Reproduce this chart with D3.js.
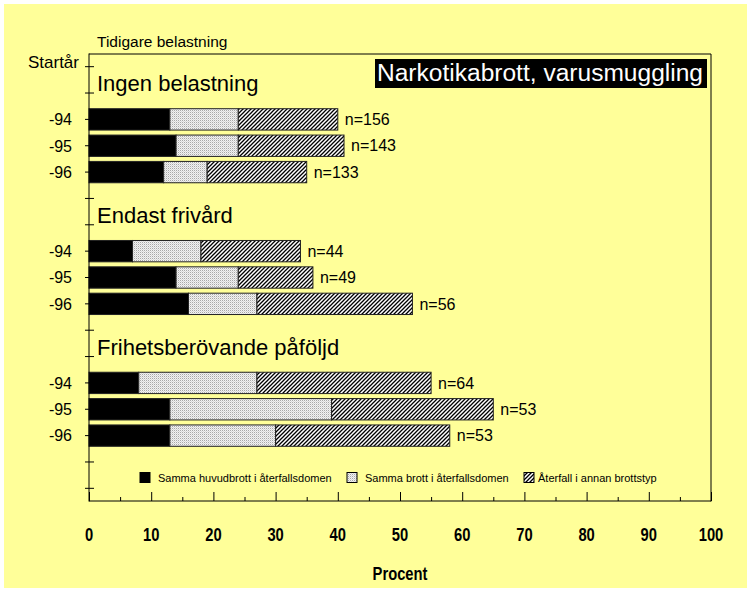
<!DOCTYPE html>
<html><head><meta charset="utf-8">
<script src="https://cdn.jsdelivr.net/npm/d3@7"></script>
<style>
body{margin:0;background:#fff}
svg{display:block}
text{font-family:"Liberation Sans",Arial,Helvetica,sans-serif;fill:#000}
</style>
</head><body>
<svg id="chart" width="751" height="592"></svg>
<script>
// ---- data ----
const title = "Narkotikabrott, varusmuggling";
const groupNames = ["Ingen belastning", "Endast frivård", "Frihetsberövande påföljd"];
const years = ["-94", "-95", "-96"];
const sammaHuvud = [13, 14, 12, 7, 14, 16, 8, 13, 13];
const sammaBrott = [11, 10, 7, 11, 10, 11, 19, 26, 17];
const annanTyp   = [16, 17, 16, 16, 12, 25, 28, 26, 28];
const nLabels = ["n=156", "n=143", "n=133", "n=44", "n=49", "n=56", "n=64", "n=53", "n=53"];
const seriesNames = ["Samma huvudbrott i återfallsdomen", "Samma brott i återfallsdomen", "Återfall i annan brottstyp"];
const xTicks = [0, 10, 20, 30, 40, 50, 60, 70, 80, 90, 100];
const xTitle = "Procent";
const yHeader = "Startår";
const topNote = "Tidigare belastning";

// ---- layout ----
const W = 751, H = 592;
const L = 89, R = 711, T = 53.5, B = 501.5;
const nSlots = 17;
const svg = d3.select("#chart");

// defs: patterns
const defs = svg.append("defs");
const pg = defs.append("pattern").attr("id", "dots").attr("patternUnits", "userSpaceOnUse")
  .attr("width", 2).attr("height", 2);
pg.append("rect").attr("width", 2).attr("height", 2).attr("fill", "#f2f2f2");
pg.append("rect").attr("width", 1).attr("height", 1).attr("fill", "#a8a8a8");
pg.append("rect").attr("x", 1).attr("y", 1).attr("width", 1).attr("height", 1).attr("fill", "#d8d8d8");
const ph = defs.append("pattern").attr("id", "hatch").attr("patternUnits", "userSpaceOnUse")
  .attr("width", 4).attr("height", 4);
ph.append("rect").attr("width", 4).attr("height", 4).attr("fill", "#fff");
ph.append("path").attr("d", "M0,4 L4,0 M-1,1 L1,-1 M3,5 L5,3")
  .attr("stroke", "#000").attr("stroke-width", 1.3);
const fills = ["#000", "url(#dots)", "url(#hatch)"];

// background
svg.append("rect").attr("x", 4).attr("y", 4).attr("width", W - 8).attr("height", H - 8).attr("fill", "#FFFF99");

// scales
const y = d3.scaleBand().domain(d3.range(nSlots)).range([T, B]).paddingInner(0.19).paddingOuter(0.095);
const yc = i => y(i) + y.bandwidth() / 2;
const x = d3.scaleLinear().domain([0, 100]).range([L, R]);

// rows
const rows = [];
groupNames.forEach((g, gi) => {
  years.forEach((yr, yi) => {
    const k = gi * 3 + yi;
    rows.push({slot: 2 + gi * 5 + yi, year: yr, s0: sammaHuvud[k], s1: sammaBrott[k], s2: annanTyp[k], n: nLabels[k]});
  });
});
const stack = d3.stack().keys(["s0", "s1", "s2"]);
const stacked = stack(rows);

// frame (top & right)
svg.append("path").attr("d", `M${L},${T + 0.5}H${R}V${B}`).attr("fill", "none").attr("stroke", "#000").attr("stroke-width", 1);

// bars
stacked.forEach((layer, li) => {
  svg.append("g").selectAll("rect").data(layer).join("rect")
    .attr("x", d => x(d[0]))
    .attr("y", d => y(d.data.slot))
    .attr("width", d => x(d[1]) - x(d[0]))
    .attr("height", y.bandwidth())
    .attr("fill", fills[li])
    .attr("stroke", "#222").attr("stroke-width", 1);
});

// n labels
svg.append("g").selectAll("text").data(rows).join("text")
  .attr("x", d => x(d.s0 + d.s1 + d.s2) + 7)
  .attr("y", d => yc(d.slot) + 5.7)
  .attr("font-size", 16)
  .text(d => d.n);

// left axis
const yAxis = d3.axisLeft(y).tickSize(4).tickFormat("");
const ga = svg.append("g").attr("transform", `translate(${L},0)`).call(yAxis);
ga.select(".domain").remove();
ga.selectAll(".tick line").attr("x1", 5).attr("stroke", "#000");
svg.append("line").attr("x1", L).attr("x2", L).attr("y1", T).attr("y2", B).attr("stroke", "#000");

// year labels
svg.append("g").selectAll("text").data(rows).join("text")
  .attr("x", 72).attr("y", d => yc(d.slot) + 5.8)
  .attr("text-anchor", "end").attr("font-size", 16)
  .text(d => d.year);

// group labels
svg.append("g").selectAll("text").data(groupNames).join("text")
  .attr("x", 97).attr("y", (d, i) => yc(1 + i * 5) - 2)
  .attr("font-size", 22)
  .text(d => d);

// header
svg.append("text").attr("x", 79).attr("y", yc(0) + 1.5).attr("text-anchor", "end").attr("font-size", 17).text(yHeader);
svg.append("text").attr("x", 97).attr("y", 47).attr("font-size", 15.5).text(topNote);

// title box
svg.append("rect").attr("x", 375).attr("y", 59).attr("width", 332).attr("height", 29).attr("fill", "#000");
svg.append("text").attr("x", 377).attr("y", 81).attr("font-size", 23.5)
  .attr("textLength", 326).attr("lengthAdjust", "spacingAndGlyphs")
  .style("fill", "#fff").text(title);

// x axis
const xMajor = d3.axisBottom(x).tickValues(xTicks).tickSize(-9).tickFormat("");
const gx = svg.append("g").attr("transform", `translate(0,${B - 0.5})`).call(xMajor);
gx.selectAll("line").attr("stroke", "#000");
gx.select(".domain").attr("stroke", "#000").attr("d", `M${L},0H${R}`);
const minor = xTicks.slice(0, -1).map(v => v + 5);
const gxm = svg.append("g").attr("transform", `translate(0,${B - 0.5})`)
  .call(d3.axisBottom(x).tickValues(minor).tickSize(-4).tickFormat(""));
gxm.select(".domain").remove();
gxm.selectAll("line").attr("stroke", "#000");

svg.append("g").selectAll("g").data(xTicks).join("g")
  .attr("transform", d => `translate(${x(d)},540.5) scale(0.82,1)`)
  .append("text").attr("text-anchor", "middle").attr("font-size", 18).attr("font-weight", "bold")
  .text(d => d);
svg.append("g").attr("transform", `translate(400,580) scale(0.82,1)`)
  .append("text").attr("text-anchor", "middle").attr("font-size", 18).attr("font-weight", "bold").text(xTitle);

// legend
const legSq = [140, 347, 524];
const legTx = [158, 365, 538];
const lg = svg.append("g");
seriesNames.forEach((s, i) => {
  lg.append("rect").attr("x", legSq[i]).attr("y", 472.5).attr("width", 10).attr("height", 10)
    .attr("fill", fills[i]).attr("stroke", "#000").attr("stroke-width", 1);
  lg.append("text").attr("x", legTx[i]).attr("y", 481.5).attr("font-size", 11).text(s);
});
</script>
</body></html>
